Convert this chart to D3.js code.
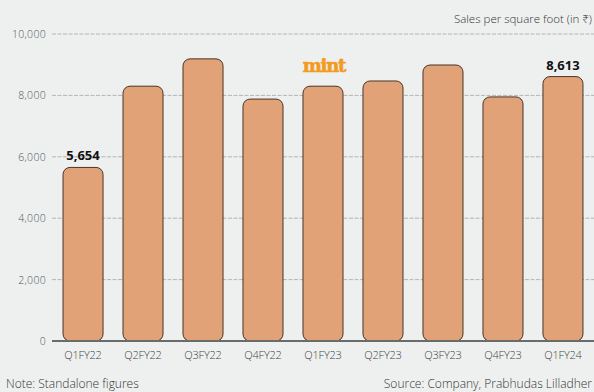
<!DOCTYPE html>
<html><head><meta charset="utf-8">
<script src="https://cdn.jsdelivr.net/npm/d3@7"></script>
<style>
html,body{margin:0;padding:0;background:#eef0f0;}
svg{display:block;}
</style></head>
<body><svg id="c" width="594" height="392"></svg>
<script>
const categories = ["Q1FY22","Q2FY22","Q3FY22","Q4FY22","Q1FY23","Q2FY23","Q3FY23","Q4FY23","Q1FY24"];
const values = [5654, 8300, 9190, 7880, 8300, 8470, 8990, 7950, 8613];
const yTicks = [0, 2000, 4000, 6000, 8000, 10000];
const labelled = {0: "5,654", 8: "8,613"};

const FONT = "'Open Sans','Noto Sans',sans-serif";
const svg = d3.select("#c");
const W = 594, H = 392;
svg.append("rect").attr("width", W).attr("height", H).attr("fill", "#eef0f0");

const x = d3.scaleBand().domain(categories).range([53, 593]).paddingInner(0.333).paddingOuter(0.167);
const y = d3.scaleLinear().domain([0, 10000]).range([341, 34]);

// gridlines
svg.append("g").selectAll("line").data(yTicks.filter(d => d > 0)).join("line")
  .attr("x1", 52).attr("x2", 594)
  .attr("y1", d => y(d)).attr("y2", d => y(d))
  .attr("stroke", "#a4a6a6").attr("stroke-width", 0.8).attr("stroke-dasharray", "4,1.5");

// tick labels
svg.append("g").selectAll("text").data(yTicks).join("text")
  .attr("x", 46).attr("y", d => y(d) + 4)
  .attr("text-anchor", "end").attr("font-size", 10.5).attr("fill", "#555")
  .style("font-family", FONT).attr("font-weight", 300).attr("letter-spacing", 0.3)
  .text(d => d3.format(",")(d));

// bars
svg.append("g").selectAll("rect").data(values).join("rect")
  .attr("x", (d, i) => x(categories[i]))
  .attr("width", x.bandwidth())
  .attr("y", d => y(d))
  .attr("height", d => y(0) - y(d))
  .attr("rx", 7).attr("ry", 7)
  .attr("fill", "#e0a276").attr("stroke", "#4a3428").attr("stroke-width", 1);

// baseline
svg.append("line").attr("x1", 52).attr("x2", 594).attr("y1", y(0)).attr("y2", y(0))
  .attr("stroke", "#6a6c6c").attr("stroke-width", 2);

// x labels
svg.append("g").selectAll("text").data(categories).join("text")
  .attr("x", d => x(d) + x.bandwidth() / 2).attr("y", 359)
  .attr("text-anchor", "middle").attr("font-size", 11).attr("fill", "#444")
  .style("font-family", FONT).attr("font-weight", 300).attr("letter-spacing", -0.2)
  .text(d => d);

// value labels
svg.append("g").selectAll("text").data(Object.keys(labelled)).join("text")
  .attr("x", i => x(categories[i]) + x.bandwidth() / 2)
  .attr("y", i => y(values[i]) - 7)
  .attr("text-anchor", "middle").attr("font-size", 13).attr("font-weight", 700).attr("fill", "#111")
  .style("font-family", FONT)
  .text(i => labelled[i]);

// title
svg.append("text").attr("x", 592).attr("y", 23).attr("text-anchor", "end")
  .style("font-family", FONT).attr("font-weight", 300)
  .attr("font-size", 11.5).attr("fill", "#333").text("Sales per square foot (in ₹)");

// mint logo
svg.append("text").attr("x", 324).attr("y", 72).attr("text-anchor", "middle")
  .style("font-family", "'DejaVu Serif','Liberation Serif',serif").attr("font-weight", 700)
  .attr("font-size", 18).attr("fill", "#f29c1f").attr("stroke", "#f29c1f").attr("stroke-width", 0.6)
  .attr("letter-spacing", -1.2).text("mint");

// footnotes
svg.append("text").attr("x", 6).attr("y", 388).attr("font-size", 12).attr("fill", "#333")
  .style("font-family", FONT).attr("font-weight", 300)
  .text("Note: Standalone figures");
svg.append("text").attr("x", 592).attr("y", 388).attr("text-anchor", "end").attr("font-size", 12).attr("fill", "#333")
  .style("font-family", FONT).attr("font-weight", 300)
  .text("Source: Company, Prabhudas Lilladher");
</script></body></html>
